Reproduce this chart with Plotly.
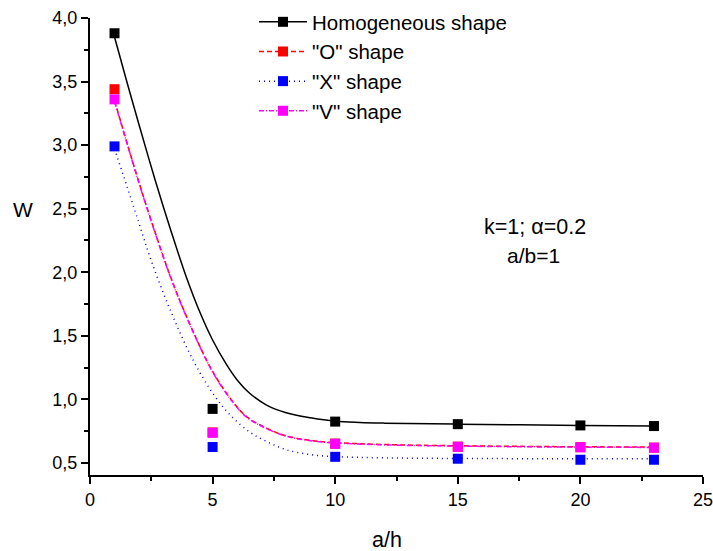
import plotly.graph_objects as go

# Measured points
a_h = [1, 5, 10, 15, 20, 23]
w_homog = [3.88, 0.925, 0.825, 0.805, 0.795, 0.79]
w_O = [3.44, 0.74, 0.652, 0.628, 0.624, 0.62]
w_X = [2.99, 0.625, 0.548, 0.533, 0.525, 0.525]
w_V = [3.36, 0.737, 0.651, 0.627, 0.623, 0.62]

# Fitted curves
fit_x_h = [1, 1.5, 2, 2.65, 3.3, 3.92, 4.5, 5, 5.57, 6, 6.5, 7.2, 8, 9, 10, 11, 12, 15, 20, 23]
fit_h = [3.85, 3.50, 3.16, 2.73, 2.327, 1.967, 1.677, 1.467, 1.273, 1.153, 1.05, 0.955, 0.895, 0.855,
         0.828, 0.818, 0.813, 0.805, 0.795, 0.79]
fit_x_ov = [1, 1.5, 2, 2.5, 3.3, 4.1, 5, 5.8, 6.4, 7.2, 8, 9.1, 10, 12, 15, 20, 23]
fit_O = [3.35, 3.025, 2.705, 2.405, 1.956, 1.58, 1.22, 0.988, 0.862, 0.773, 0.713, 0.675, 0.66,
         0.645, 0.635, 0.627, 0.625]
fit_V = [3.34, 3.02, 2.70, 2.40, 1.952, 1.576, 1.216, 0.984, 0.858, 0.77, 0.71, 0.672, 0.657,
         0.642, 0.632, 0.624, 0.622]
fit_x_x = [1, 1.5, 2, 2.5, 3.3, 4.2, 5, 5.7, 6.5, 7.2, 8, 9, 10, 12, 15, 20, 23]
fit_X = [2.97, 2.68, 2.385, 2.09, 1.69, 1.31, 1.05, 0.88, 0.745, 0.669, 0.604, 0.565, 0.55, 0.54,
         0.535, 0.533, 0.532]

names = ["Homogeneous shape", '"O" shape', '"X" shape', '"V" shape']
colors = ["#000000", "#FF0000", "#0000FF", "#FF00FF"]
dashes = ["solid", "5px,3px", "1px,4px", "5px,2px,1px,2px"]

series = [
    (fit_x_h, fit_h, w_homog),
    (fit_x_ov, fit_O, w_O),
    (fit_x_x, fit_X, w_X),
    (fit_x_ov, fit_V, w_V),
]

FONT = "Arial, Liberation Sans, sans-serif"
fig = go.Figure()
for (fx, fy, py), name, col, dsh in zip(series, names, colors, dashes):
    fig.add_trace(go.Scatter(x=fx, y=fy, mode="lines", line=dict(color=col, width=1.5, dash=dsh, shape="spline"),
                             showlegend=False, hoverinfo="skip", legendgroup=name))
    fig.add_trace(go.Scatter(x=a_h, y=py, mode="markers", marker=dict(symbol="square", size=10, color=col),
                             showlegend=False, name=name, legendgroup=name))
    fig.add_trace(go.Scatter(x=[None], y=[None], mode="lines+markers", name=name, legendgroup=name,
                             line=dict(color=col, width=1.5, dash=dsh),
                             marker=dict(symbol="square", size=10, color=col)))

axis_common = dict(showgrid=False, zeroline=False, showline=True, linecolor="black", linewidth=2,
                   ticks="outside", ticklen=7, tickwidth=2, tickcolor="black", automargin=False,
                   tickfont=dict(size=18), ticklabeloverflow="allow")

fig.update_layout(
    width=713, height=551,
    margin=dict(l=90, r=10, t=18, b=76, autoexpand=False),
    paper_bgcolor="white", plot_bgcolor="white",
    separators=",.",
    font=dict(family=FONT, size=18, color="black"),
    legend=dict(xref="container", yref="container", x=254 / 713, y=1 - 2 / 551,
                xanchor="left", yanchor="top", bgcolor="rgba(0,0,0,0)",
                font=dict(size=20.5), tracegroupgap=0, itemwidth=48),
    xaxis=dict(range=[0, 25], tick0=0, dtick=5, **axis_common,
               minor=dict(dtick=2.5, tick0=0, ticks="outside", ticklen=4, tickwidth=2, tickcolor="black")),
    yaxis=dict(range=[0.405, 4.0], tick0=0.5, dtick=0.5, tickformat=".1f", **axis_common,
               minor=dict(dtick=0.25, tick0=0.5, ticks="outside", ticklen=4, tickwidth=2, tickcolor="black")),
    annotations=[
        dict(text="W", xref="paper", yref="paper", x=-0.1093, y=0.580, xanchor="center", yanchor="middle",
             showarrow=False, font=dict(size=21)),
        dict(text="a/h", xref="paper", yref="paper", x=0.4853, y=-0.1422, xanchor="center", yanchor="middle",
             showarrow=False, font=dict(size=21.5)),
        dict(text="k=1; α=0.2", xref="paper", yref="paper", x=0.7254, y=0.5433, xanchor="center",
             yanchor="middle", showarrow=False, font=dict(size=21.5)),
        dict(text="a/b=1", xref="paper", yref="paper", x=0.7243, y=0.4814, xanchor="center",
             yanchor="middle", showarrow=False, font=dict(size=21)),
    ],
)

fig.write_html("out.html", config={"displayModeBar": False},
               post_script="document.body.style.margin='0';")
